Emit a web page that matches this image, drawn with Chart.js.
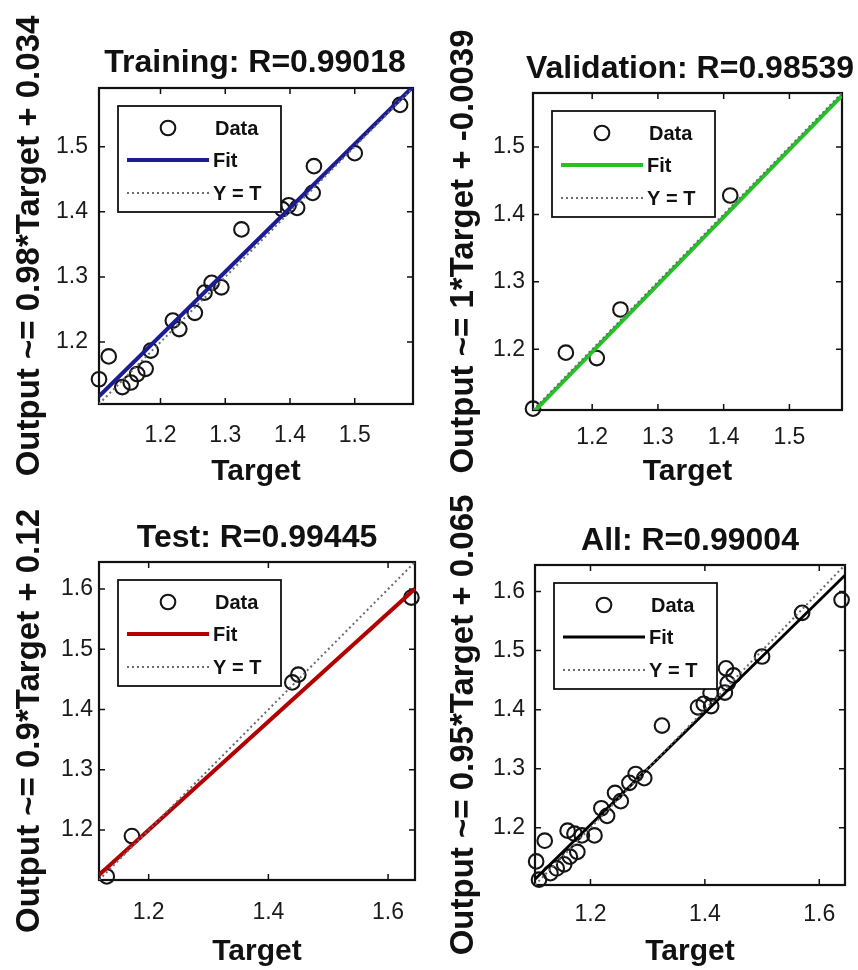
<!DOCTYPE html>
<html><head><meta charset="utf-8">
<script src="https://cdn.jsdelivr.net/npm/chart.js@4/dist/chart.umd.min.js"></script>
<style>
html,body{margin:0;padding:0;background:#fff;width:858px;height:970px;overflow:hidden}
canvas{position:absolute}
</style></head><body>
<canvas id="c0"></canvas><canvas id="c1"></canvas><canvas id="c2"></canvas><canvas id="c3"></canvas>
<script>
// ---------- data ----------
const trainTarget = [1.105,1.120,1.141,1.154,1.164,1.177,1.185,1.219,1.229,1.253,1.268,1.279,1.294,1.325,1.388,1.398,1.411,1.435,1.437,1.500,1.570];
const trainOutput = [1.143,1.178,1.131,1.138,1.151,1.159,1.187,1.233,1.220,1.245,1.276,1.291,1.284,1.373,1.404,1.410,1.406,1.429,1.470,1.490,1.564];
const valTarget  = [1.110,1.160,1.207,1.243,1.410];
const valOutput  = [1.112,1.195,1.187,1.259,1.428];
const testTarget = [1.130,1.172,1.440,1.450,1.639];
const testOutput = [1.123,1.190,1.445,1.458,1.586];
const allTarget = trainTarget.concat(valTarget, testTarget);
const allOutput = trainOutput.concat(valOutput, testOutput);

const panelNames   = ["Training: R=0.99018","Validation: R=0.98539","Test: R=0.99445","All: R=0.99004"];
const yAxisTitles  = ["Output ~= 0.98*Target + 0.034","Output ~= 1*Target + -0.0039","Output ~= 0.9*Target + 0.12","Output ~= 0.95*Target + 0.065"];
const xAxisTitle   = "Target";
const fitSlopes     = [0.98, 1, 0.9, 0.95];
const fitIntercepts = [0.034, -0.0039, 0.12, 0.065];
const axisMin = [1.105, 1.110, 1.117, 1.103];
const axisMax = [1.590, 1.580, 1.645, 1.645];
const ticksSmall = [1.2, 1.3, 1.4, 1.5];
const ticksWideX = [1.2, 1.4, 1.6];
const ticksWideY = [1.2, 1.3, 1.4, 1.5, 1.6];
const legendLabels = ["Data", "Fit", "Y = T"];

const targets = [trainTarget, valTarget, testTarget, allTarget];
const outputs = [trainOutput, valOutput, testOutput, allOutput];
const xTickSets = [ticksSmall, ticksSmall, ticksWideX, ticksWideX];
const yTickSets = [ticksSmall, ticksSmall, ticksWideY, ticksWideY];

// ---------- styles / layout ----------
const fitColors = ["#1b1b94", "#22c322", "#b30000", "#000000"];
const fitWidths = [4, 4, 4, 2.8];
const FONT = "'Liberation Sans', Arial, Helvetica, sans-serif";
const layouts = [
  {x:0,   y:0,   w:429, h:490, box:{l:99,  t:88,  r:413, b:404}, titleX:255, titleBase:72,  tickPadX:18, tickPadY:11, yTitlePad:9.8},
  {x:429, y:0,   w:429, h:490, box:{l:533, t:93,  r:842, b:410}, titleX:690, titleBase:78,  tickPadX:14, tickPadY:8,  yTitlePad:14.8},
  {x:0,   y:490, w:429, h:480, box:{l:99,  t:562, r:415, b:880}, titleX:257, titleBase:547, tickPadX:19, tickPadY:6,  yTitlePad:9.8},
  {x:429, y:490, w:429, h:480, box:{l:535, t:565, r:845, b:885}, titleX:690, titleBase:550, tickPadX:16, tickPadY:10, yTitlePad:14.8}
];

const decorPlugin = {
  id: 'decor',
  beforeDatasetsDraw(chart, args, o) {
    const ctx = chart.ctx, a = chart.chartArea;
    const xs = chart.scales.x, ys = chart.scales.y;
    ctx.save();
    ctx.strokeStyle = '#111';
    ctx.lineWidth = 1.5;
    const L = 6;
    ctx.beginPath();
    o.xTicks.forEach(v => {
      const px = xs.getPixelForValue(v);
      ctx.moveTo(px, a.bottom); ctx.lineTo(px, a.bottom - L);
      ctx.moveTo(px, a.top); ctx.lineTo(px, a.top + L);
    });
    o.yTicks.forEach(v => {
      const py = ys.getPixelForValue(v);
      ctx.moveTo(a.left, py); ctx.lineTo(a.left + L, py);
      ctx.moveTo(a.right, py); ctx.lineTo(a.right - L, py);
    });
    ctx.stroke();
    ctx.lineWidth = 2.2;
    ctx.strokeRect(a.left, a.top, a.right - a.left, a.bottom - a.top);
    ctx.restore();
  },
  afterDatasetsDraw(chart, args, o) {
    const ctx = chart.ctx, a = chart.chartArea;
    const ds = chart.data.datasets;
    const lx = a.left + 19, ly = a.top + 18, lw = 163, lh = 106;
    ctx.save();
    ctx.fillStyle = '#fff';
    ctx.fillRect(lx, ly, lw, lh);
    ctx.strokeStyle = '#111';
    ctx.lineWidth = 1.8;
    ctx.strokeRect(lx, ly, lw, lh);
    const rows = [22, 54, 87];
    ctx.beginPath();
    ctx.lineWidth = ds[0].borderWidth;
    ctx.strokeStyle = ds[0].borderColor;
    ctx.arc(lx + 50, ly + rows[0], ds[0].pointRadius, 0, Math.PI * 2);
    ctx.stroke();
    ctx.beginPath();
    ctx.lineWidth = ds[1].borderWidth;
    ctx.strokeStyle = ds[1].borderColor;
    ctx.moveTo(lx + 9, ly + rows[1]); ctx.lineTo(lx + 91, ly + rows[1]);
    ctx.stroke();
    ctx.beginPath();
    ctx.lineWidth = ds[2].borderWidth;
    ctx.strokeStyle = ds[2].borderColor;
    ctx.setLineDash(ds[2].borderDash);
    ctx.moveTo(lx + 9, ly + rows[2]); ctx.lineTo(lx + 91, ly + rows[2]);
    ctx.stroke();
    ctx.setLineDash([]);
    ctx.fillStyle = '#111';
    ctx.font = 'bold 20px ' + FONT;
    ctx.textAlign = 'left';
    ctx.textBaseline = 'middle';
    legendLabels.forEach((t, i) => ctx.fillText(t, lx + 95 + (i === 0 ? 2 : 0), ly + rows[i] + 1));
    ctx.restore();
  },
  afterDraw(chart, args, o) {
    const ctx = chart.ctx;
    ctx.save();
    ctx.fillStyle = '#111';
    ctx.font = 'bold 32px ' + FONT;
    ctx.textAlign = 'center';
    ctx.textBaseline = 'alphabetic';
    ctx.fillText(o.title, o.titleX, o.titleY);
    ctx.restore();
  }
};

for (let i = 0; i < 4; i++) {
  const L = layouts[i];
  const cv = document.getElementById('c' + i);
  cv.width = L.w; cv.height = L.h;
  cv.style.left = L.x + 'px'; cv.style.top = L.y + 'px';
  cv.style.width = L.w + 'px'; cv.style.height = L.h + 'px';
  const lo = axisMin[i], hi = axisMax[i];
  const pts = targets[i].map((t, k) => ({x: t, y: outputs[i][k]}));
  const fitPts = [lo, hi].map(t => ({x: t, y: fitSlopes[i] * t + fitIntercepts[i]}));
  const idPts = [lo, hi].map(t => ({x: t, y: t}));
  const yW = L.box.l - L.x;
  const xH = L.y + L.h - L.box.b;
  new Chart(cv, {
    type: 'scatter',
    data: {
      datasets: [
        {label: legendLabels[0], data: pts, showLine: false, pointRadius: 7.3, pointHoverRadius: 7.3,
         borderColor: '#151515', backgroundColor: 'rgba(0,0,0,0)', borderWidth: 2.1, pointBorderWidth: 2.1, clip: false, order: 3},
        {label: legendLabels[1], data: fitPts, showLine: true, pointRadius: 0, borderColor: fitColors[i],
         borderWidth: fitWidths[i], order: 2},
        {label: legendLabels[2], data: idPts, showLine: true, pointRadius: 0, borderColor: '#6a6a78',
         borderWidth: 2, borderDash: [2, 3], order: 1}
      ]
    },
    options: {
      responsive: false,
      animation: false,
      devicePixelRatio: 1,
      layout: {padding: {left: 0, right: L.x + L.w - L.box.r, top: L.box.t - L.y, bottom: 0}},
      plugins: {
        legend: {display: false},
        tooltip: {enabled: false},
        title: {display: false},
        decor: {title: panelNames[i], titleX: L.titleX - L.x, titleY: L.titleBase - L.y,
                xTicks: xTickSets[i], yTicks: yTickSets[i]}
      },
      scales: {
        x: {
          type: 'linear', position: 'bottom', min: lo, max: hi,
          grid: {display: false, drawTicks: false}, border: {display: false},
          afterBuildTicks: s => { s.ticks = xTickSets[i].map(v => ({value: v})); },
          afterFit: s => { s.height = xH; },
          ticks: {autoSkip: false, maxRotation: 0, padding: L.tickPadX, color: '#1a1a1a',
                  font: {family: FONT, size: 23}, callback: v => v.toFixed(1)},
          title: {display: true, text: xAxisTitle, color: '#111', padding: {top: 0, bottom: 0},
                  font: {family: FONT, size: 30, weight: 'bold'}}
        },
        y: {
          type: 'linear', position: 'left', min: lo, max: hi,
          grid: {display: false, drawTicks: false}, border: {display: false},
          afterBuildTicks: s => { s.ticks = yTickSets[i].map(v => ({value: v})); },
          afterFit: s => { s.width = yW; },
          ticks: {autoSkip: false, padding: L.tickPadY, color: '#1a1a1a',
                  font: {family: FONT, size: 23}, callback: v => v.toFixed(1)},
          title: {display: true, text: yAxisTitles[i], color: '#111', padding: {top: L.yTitlePad, bottom: 0},
                  font: {family: FONT, size: 33, weight: 'bold'}}
        }
      }
    },
    plugins: [decorPlugin]
  });
}
</script>
</body></html>
